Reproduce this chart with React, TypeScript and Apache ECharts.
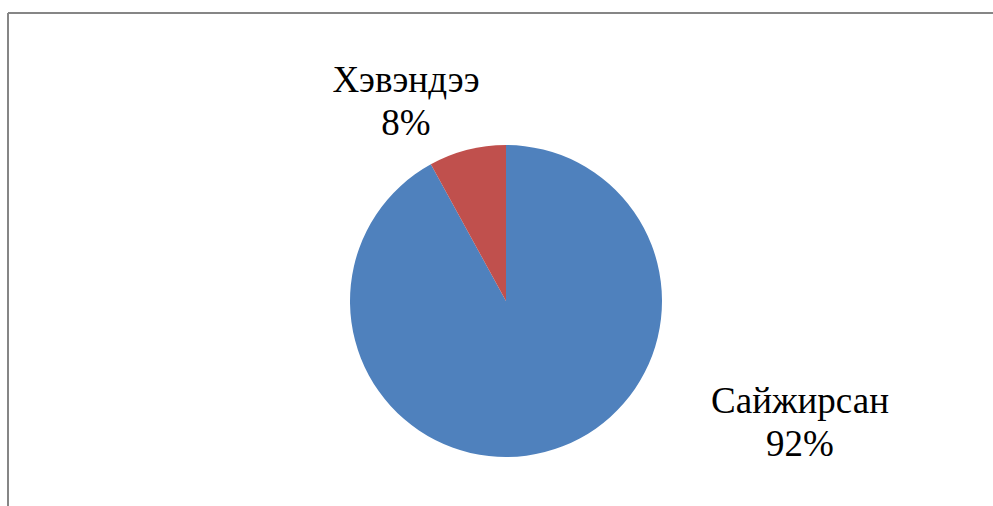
import React, { useEffect, useRef } from "react";
import * as echarts from "echarts";

const categories = ["Сайжирсан", "Хэвэндээ"];
const values = [92, 8];
const colors = ["#4F81BD", "#C0504D"];

export default function App() {
  const ref = useRef<HTMLDivElement>(null);
  useEffect(() => {
    document.body.style.margin = "0";
    if (!ref.current) return;
    const chart = echarts.init(ref.current, undefined, { renderer: "svg" });
    const labelPos = [
      { x: 800, y: 422 },
      { x: 406, y: 101 },
    ];
    const font = "Liberation Serif";
    chart.setOption({
      animation: false,
      backgroundColor: "#ffffff",
      textStyle: { fontFamily: font },
      graphic: [
        {
          type: "line",
          shape: { x1: 8, y1: 13, x2: 993, y2: 13 },
          style: { stroke: "#868686", lineWidth: 2 },
          silent: true,
        },
        {
          type: "line",
          shape: { x1: 8, y1: 13, x2: 8, y2: 506 },
          style: { stroke: "#868686", lineWidth: 2 },
          silent: true,
        },
      ],
      series: [
        {
          type: "pie",
          center: [506, 301],
          radius: [0, 156],
          startAngle: 90,
          clockwise: true,
          data: categories.map((c, i) => ({
            name: c,
            value: values[i],
            itemStyle: { color: colors[i] },
          })),
          itemStyle: { borderWidth: 0 },
          label: {
            show: true,
            formatter: "{b}\n{d}%",
            fontFamily: font,
            fontSize: 37,
            lineHeight: 43,
            color: "#000000",
            textBorderWidth: 0,
            align: "center",
          },
          labelLine: { show: false },
          labelLayout: (params: any) => ({
            x: labelPos[params.dataIndex].x,
            y: labelPos[params.dataIndex].y,
            align: "center",
            verticalAlign: "middle",
          }),
          emphasis: { disabled: true },
        },
      ],
    });
    return () => chart.dispose();
  }, []);
  return <div ref={ref} style={{ width: 993, height: 506 }} />;
}
